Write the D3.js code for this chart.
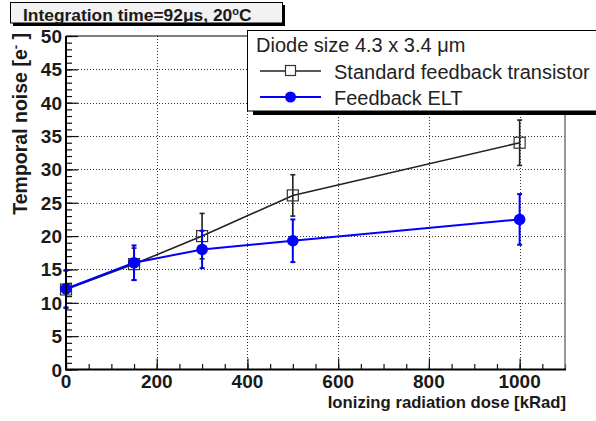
<!DOCTYPE html>
<html>
<head>
<meta charset="utf-8">
<script src="https://cdn.jsdelivr.net/npm/d3@7"></script>
<style>
  body { margin: 0; background: #fff; }
  svg { display: block; font-family: "Liberation Sans", Arial, sans-serif; }
</style>
</head>
<body>
<svg id="chart" width="596" height="421"></svg>
<script>
// values
const doses = [0, 150, 300, 500, 1000];
const standardNoise = [12.0, 15.8, 20.0, 26.1, 34.0];
const standardErr = [2.8, 2.4, 3.4, 3.1, 3.4];
const eltNoise = [12.1, 16.0, 18.0, 19.3, 22.5];
const eltErr = [2.8, 2.6, 2.8, 3.2, 3.8];
const xTicks = [0, 200, 400, 600, 800, 1000];
const yTicks = [0, 5, 10, 15, 20, 25, 30, 35, 40, 45, 50];

const svg = d3.select("#chart");
const plotL = 66, plotR = 565, plotT = 36, plotB = 369.5;

const x = d3.scaleLinear().domain([0, 1100]).range([plotL, plotR]);
const y = d3.scaleLinear().domain([0, 50]).range([plotB, plotT]);

// grid
const grid = svg.append("g").attr("stroke", "#333").attr("stroke-width", 1).attr("stroke-dasharray", "1,2");
grid.selectAll(".gx").data(xTicks.slice(1)).enter().append("line")
  .attr("x1", d => Math.round(x(d)) + 0.5).attr("x2", d => Math.round(x(d)) + 0.5)
  .attr("y1", plotT).attr("y2", plotB);
grid.selectAll(".gy").data(yTicks.slice(1, -1)).enter().append("line")
  .attr("y1", d => Math.round(y(d)) + 0.5).attr("y2", d => Math.round(y(d)) + 0.5)
  .attr("x1", plotL).attr("x2", plotR);

// ticks (inside)
function ticks(axis, vals, size) {
  return axis.tickValues(vals).tickSize(size).tickFormat("");
}
const minorX = d3.range(0, 1101, 50);
const minorY = d3.range(0, 51, 1);
svg.append("g").attr("transform", `translate(0,${plotB})`).call(ticks(d3.axisBottom(x), minorX, -5.5));
svg.append("g").attr("transform", `translate(0,${plotB})`).call(ticks(d3.axisBottom(x), xTicks, -11));
svg.append("g").attr("transform", `translate(${plotL},0)`).call(ticks(d3.axisLeft(y), minorY, -6));
svg.append("g").attr("transform", `translate(${plotL},0)`).call(ticks(d3.axisLeft(y), yTicks, -12));
svg.selectAll(".domain").remove();
svg.selectAll(".tick line").attr("stroke", "#111").attr("stroke-width", 1.2);

// series
function series(vals, errs, color, width) {
  const g = svg.append("g");
  const pts = doses.map((d, i) => ({ d: d, v: vals[i], e: errs[i] }));
  g.append("path").datum(pts)
    .attr("d", d3.line().x(p => x(p.d)).y(p => y(p.v)))
    .attr("fill", "none").attr("stroke", color).attr("stroke-width", width);
  const eb = g.selectAll(".err").data(pts).enter().append("g").attr("stroke", color).attr("stroke-width", width);
  eb.append("line").attr("x1", p => x(p.d)).attr("x2", p => x(p.d))
    .attr("y1", p => y(p.v + p.e)).attr("y2", p => y(p.v - p.e));
  eb.append("line").attr("x1", p => x(p.d) - 2.5).attr("x2", p => x(p.d) + 2.5)
    .attr("y1", p => y(p.v + p.e)).attr("y2", p => y(p.v + p.e));
  eb.append("line").attr("x1", p => x(p.d) - 2.5).attr("x2", p => x(p.d) + 2.5)
    .attr("y1", p => y(p.v - p.e)).attr("y2", p => y(p.v - p.e));
  return { g: g, pts: pts };
}
const s1 = series(standardNoise, standardErr, "#222", 1.6);
s1.g.selectAll(".sq").data(s1.pts).enter().append("rect")
  .attr("x", p => x(p.d) - 5.5).attr("y", p => y(p.v) - 5.5)
  .attr("width", 11).attr("height", 11)
  .attr("fill", "none").attr("stroke", "#333").attr("stroke-width", 1.2);
const s2 = series(eltNoise, eltErr, "#0000ff", 2);
s2.g.selectAll(".dot").data(s2.pts).enter().append("circle")
  .attr("cx", p => x(p.d)).attr("cy", p => y(p.v)).attr("r", 5.8).attr("fill", "#0000ff");

// frame
svg.append("line").attr("x1", plotL).attr("x2", plotR).attr("y1", plotT).attr("y2", plotT).attr("stroke", "#000").attr("stroke-width", 1);
svg.append("line").attr("x1", plotR).attr("x2", plotR).attr("y1", plotT).attr("y2", plotB).attr("stroke", "#777").attr("stroke-width", 1.5);
svg.append("line").attr("x1", plotL).attr("x2", plotL).attr("y1", plotT).attr("y2", plotB + 1).attr("stroke", "#000").attr("stroke-width", 2);
svg.append("line").attr("x1", plotL).attr("x2", plotR + 1).attr("y1", plotB).attr("y2", plotB).attr("stroke", "#000").attr("stroke-width", 2);

// tick labels
svg.append("g").selectAll("text").data(xTicks).enter().append("text")
  .attr("x", d => x(d)).attr("y", 388).attr("text-anchor", "middle")
  .attr("font-size", 19).attr("font-weight", "bold").attr("fill", "#1a1a1a").text(d => d);
svg.append("g").selectAll("text").data(yTicks).enter().append("text")
  .attr("x", 62).attr("y", d => y(d) + 7).attr("text-anchor", "end")
  .attr("font-size", 19).attr("font-weight", "bold").attr("fill", "#1a1a1a").text(d => d);

// axis titles
svg.append("text").attr("x", 566).attr("y", 408).attr("text-anchor", "end")
  .attr("font-size", 16.7).attr("font-weight", "bold").attr("fill", "#1a1a1a")
  .text("Ionizing radiation dose [kRad]");
const yt = svg.append("text").attr("transform", "translate(27,33) rotate(-90)").attr("text-anchor", "end")
  .attr("font-size", 19.5).attr("font-weight", "bold").attr("fill", "#1a1a1a");
yt.append("tspan").text("Temporal noise [e");
yt.append("tspan").attr("dy", -7).attr("font-size", 13).text("-");
yt.append("tspan").attr("dy", 7).text(" ]");

// title box
svg.append("rect").attr("x", 13).attr("y", 5).attr("width", 272).attr("height", 21).attr("fill", "#000");
svg.append("rect").attr("x", 10.5).attr("y", 2.5).attr("width", 272).attr("height", 20.5)
  .attr("fill", "#f2f2f2").attr("stroke", "#000").attr("stroke-width", 1);
const tt = svg.append("text").attr("x", 23).attr("y", 20.8)
  .attr("font-size", 17.4).attr("font-weight", "bold").attr("fill", "#1a1a1a");
tt.append("tspan").text("Integration time=92\u03bcs, 20");
tt.append("tspan").attr("dy", -6).attr("font-size", 11).text("o");
tt.append("tspan").attr("dy", 6).text("C");

// legend
svg.append("rect").attr("x", 253).attr("y", 36).attr("width", 360).attr("height", 79).attr("fill", "#000");
svg.append("rect").attr("x", 247.5).attr("y", 30.5).attr("width", 360).attr("height", 80.5)
  .attr("fill", "#fff").attr("stroke", "#000").attr("stroke-width", 1);
svg.append("text").attr("x", 256).attr("y", 51.5).attr("font-size", 20).attr("fill", "#222")
  .text("Diode size 4.3 x 3.4 \u03bcm");
svg.append("line").attr("x1", 260).attr("x2", 321).attr("y1", 71).attr("y2", 71).attr("stroke", "#222").attr("stroke-width", 1.5);
svg.append("rect").attr("x", 285.5).attr("y", 65.5).attr("width", 10).attr("height", 10)
  .attr("fill", "#fff").attr("stroke", "#333").attr("stroke-width", 1.2);
svg.append("text").attr("x", 334).attr("y", 79).attr("font-size", 20).attr("fill", "#222")
  .text("Standard feedback transistor");
svg.append("line").attr("x1", 260).attr("x2", 321).attr("y1", 97).attr("y2", 97).attr("stroke", "#0000ff").attr("stroke-width", 2);
svg.append("circle").attr("cx", 290.5).attr("cy", 97).attr("r", 5.5).attr("fill", "#0000ff");
svg.append("text").attr("x", 334).attr("y", 105).attr("font-size", 20).attr("fill", "#222")
  .text("Feedback ELT");
</script>
</body>
</html>
